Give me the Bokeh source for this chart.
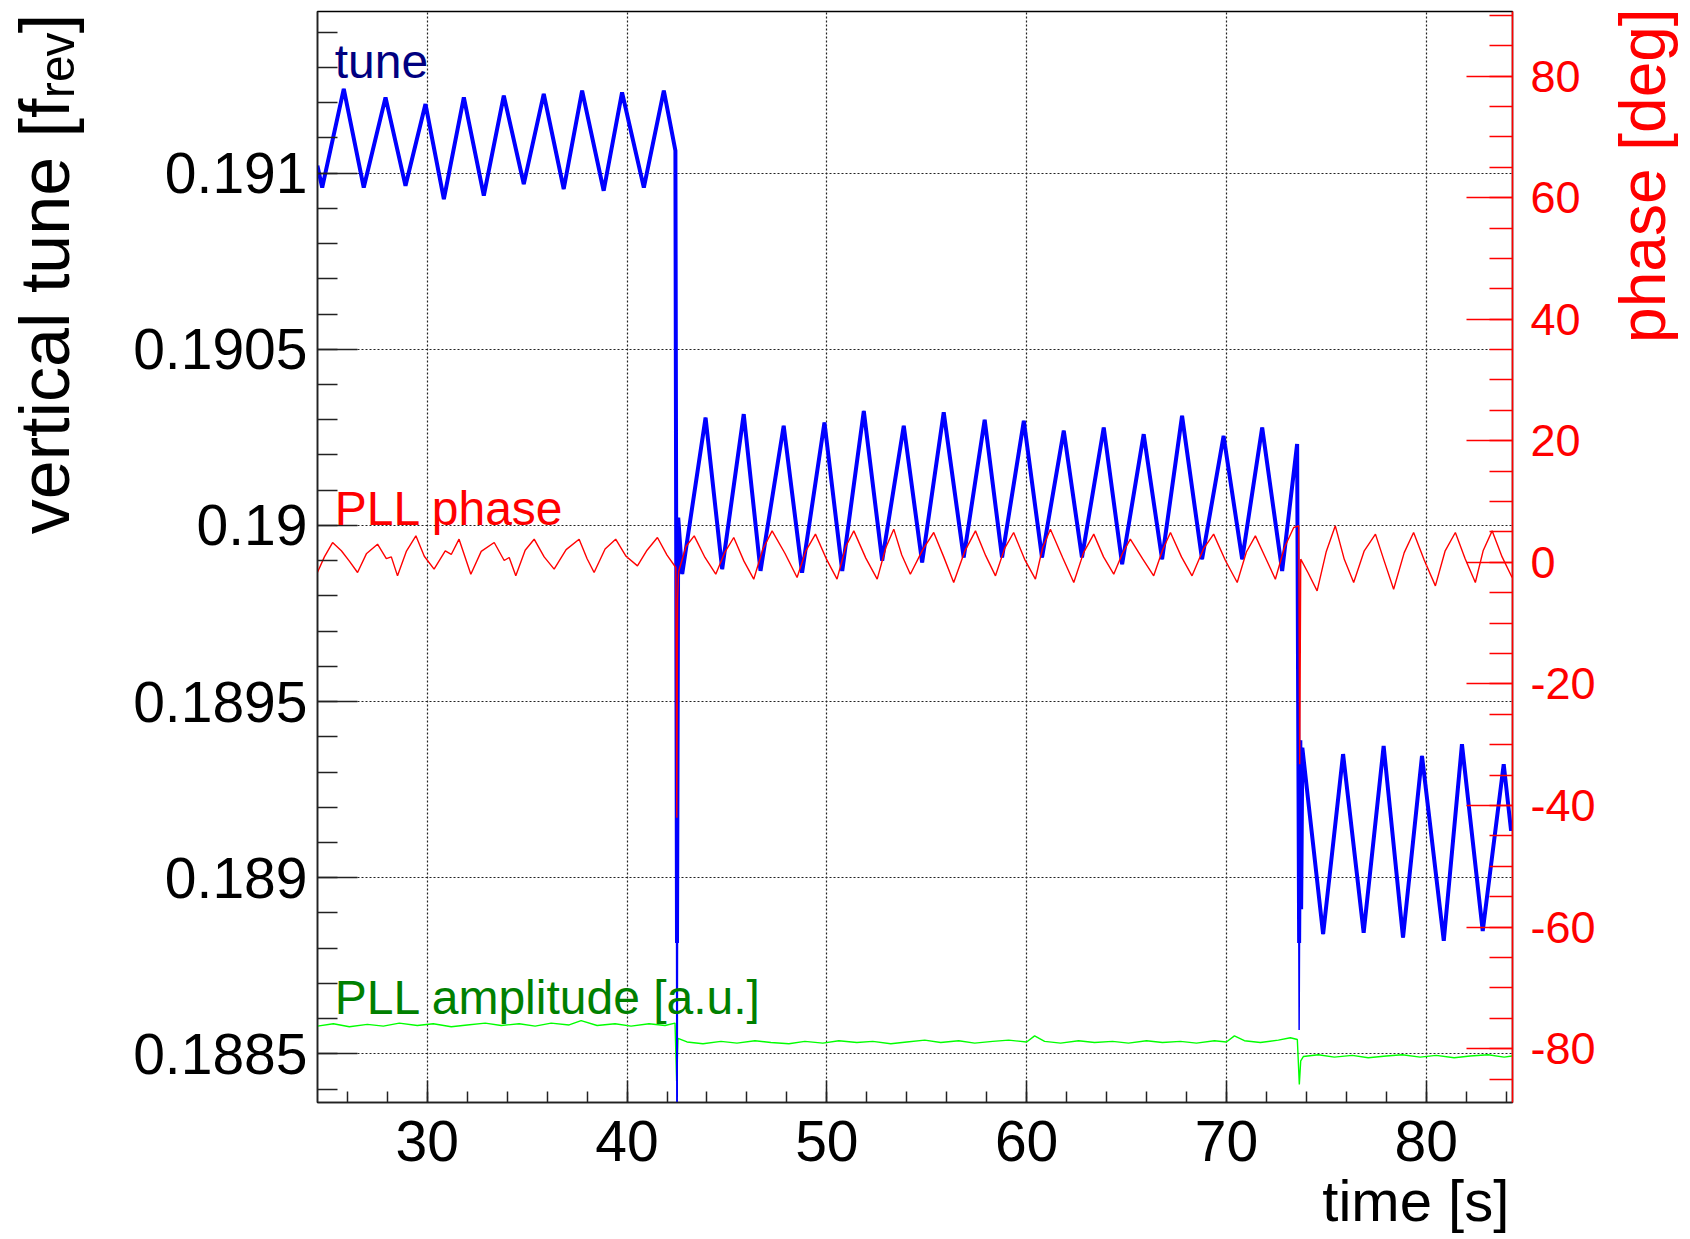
import math
from bokeh.plotting import figure
from bokeh.models import (Range1d, LinearAxis, SingleIntervalTicker,
                          CustomJSTickFormatter, Label, ColumnDataSource)
from bokeh.embed import file_html
from bokeh.resources import INLINE

# ---------------- data ----------------
# vertical tune [f_rev] versus time [s]
tune_t = [24.50, 24.74, 25.82, 26.82, 27.91, 28.91, 29.91, 30.83, 31.83, 32.83,
          33.83, 34.83, 35.83, 36.83, 37.75, 38.83, 39.75, 40.84, 41.84, 42.42,
          42.50, 42.56, 42.76, 43.93, 44.76, 45.84, 46.68, 47.84, 48.76, 49.88,
          50.77, 51.85, 52.77, 53.85, 54.77, 55.85, 56.85, 57.90, 58.77, 59.86,
          60.77, 61.86, 62.77, 63.86, 64.78, 65.86, 66.78, 67.78, 68.78, 69.86,
          70.79, 71.79, 72.79, 73.54, 73.64, 73.70, 73.74, 73.80, 74.84, 75.84,
          76.87, 77.87, 78.84, 79.79, 80.88, 81.79, 82.83, 83.88, 84.25]
tune_v = [0.191021, 0.190959, 0.191239, 0.190959, 0.191215, 0.190964, 0.191196, 0.190926, 0.191215, 0.190936,
          0.191220, 0.190969, 0.191225, 0.190955, 0.191234, 0.190950, 0.191229, 0.190959, 0.191234, 0.191064,
          0.188000, 0.190022, 0.189862, 0.190306, 0.189876, 0.190316, 0.189871, 0.190283, 0.189866, 0.190292,
          0.189871, 0.190325, 0.189900, 0.190283, 0.189895, 0.190321, 0.189909, 0.190300, 0.189909, 0.190297,
          0.189909, 0.190269, 0.189909, 0.190278, 0.189890, 0.190259, 0.189904, 0.190311, 0.189904, 0.190254,
          0.189904, 0.190278, 0.189871, 0.190231, 0.188568, 0.189390, 0.188911, 0.189369, 0.188840, 0.189351,
          0.188844, 0.189374, 0.188830, 0.189346, 0.188821, 0.189379, 0.188849, 0.189322, 0.189133]

# PLL phase [deg] versus time [s]
phase_t = [24.50, 24.85, 25.26, 25.70, 26.10, 26.51, 26.95, 27.51, 27.95, 28.20,
           28.51, 28.95, 29.43, 29.85, 30.34, 30.90, 31.20, 31.59, 32.18, 32.70,
           33.35, 33.85, 34.10, 34.43, 34.90, 35.35, 35.85, 36.35, 36.95, 37.60,
           38.00, 38.35, 38.90, 39.43, 39.95, 40.52, 41.00, 41.52, 42.00, 42.44,
           42.49, 42.53, 42.58, 42.95, 43.36, 43.90, 44.44, 44.90, 45.34, 45.85,
           46.34, 46.80, 47.26, 47.90, 48.51, 48.95, 49.43, 50.00, 50.51, 50.95,
           51.35, 51.95, 52.52, 52.95, 53.35, 53.75, 54.18, 54.80, 55.35, 55.85,
           56.35, 56.90, 57.44, 57.95, 58.44, 58.90, 59.35, 59.90, 60.44, 60.80,
           61.19, 61.80, 62.36, 62.85, 63.36, 63.85, 64.36, 64.80, 65.19, 65.80,
           66.36, 66.80, 67.20, 67.75, 68.28, 68.85, 69.36, 69.95, 70.54, 71.00,
           71.45, 71.95, 72.45, 72.90, 73.37, 73.62, 73.67, 73.72, 74.10, 74.54,
           75.00, 75.45, 75.90, 76.37, 76.90, 77.46, 77.90, 78.37, 78.90, 79.37,
           79.90, 80.46, 80.95, 81.46, 81.95, 82.46, 82.85, 83.30, 83.80, 84.30]
phase_v = [-1.67, 0.9, 3.26, 1.9, 0.2, -1.67, 1.4, 2.99, 0.6, 0.9,
           -2.22, 1.8, 4.36, 1.0, -1.12, 1.9, 1.3, 3.81, -1.95, 1.8,
           3.26, 0.3, 0.8, -2.22, 2.0, 3.81, 0.9, -1.12, 2.1, 3.81,
           0.6, -1.67, 2.2, 3.81, 1.0, -0.58, 2.0, 4.09, 1.2, -0.85,
           -42.0, -6.0, -1.5, 2.6, 4.36, 0.8, -1.95, 1.7, 4.09, 0.2,
           -2.77, 2.2, 5.18, 1.5, -2.50, 1.9, 4.64, 0.4, -2.77, 2.6,
           5.18, 0.7, -2.77, 2.4, 5.46, 1.2, -1.95, 2.1, 4.91, 0.9,
           -3.32, 1.8, 5.18, 1.1, -2.22, 2.3, 4.91, 0.5, -2.77, 2.4,
           5.46, 0.8, -3.32, 1.6, 4.64, 0.9, -1.95, 1.5, 3.81, 0.6,
           -2.22, 2.0, 4.91, 0.9, -2.22, 2.2, 4.64, 0.3, -3.32, 1.7,
           4.36, 0.8, -2.77, 2.4, 5.73, 6.00, -33.2, 0.52, -1.8, -4.69,
           1.8, 6.01, 0.5, -3.32, 1.9, 4.64, 0.2, -4.42, 1.6, 4.91,
           0.4, -3.87, 1.9, 4.91, 0.6, -3.32, 1.9, 5.18, 0.9, -2.50]

# PLL amplitude [a.u.], drawn on the phase scale
amp_t = [24.50, 25.3, 26.1, 27.0, 27.8, 28.6, 29.5, 30.3, 31.2, 32.0,
         32.9, 33.7, 34.6, 35.4, 36.2, 37.1, 37.7, 38.5, 39.4, 40.2,
         41.1, 41.9, 42.40, 42.48, 42.55, 43.0, 43.8, 44.7, 45.5, 46.4,
         47.2, 48.1, 48.9, 49.8, 50.6, 51.5, 52.3, 53.2, 54.0, 54.9,
         55.7, 56.6, 57.4, 58.3, 59.1, 60.0, 60.4, 60.9, 61.7, 62.6,
         63.4, 64.3, 65.1, 66.0, 66.8, 67.7, 68.5, 69.4, 70.0, 70.4,
         70.9, 71.7, 72.6, 73.2, 73.55, 73.65, 73.72, 73.85, 74.6, 75.4,
         76.3, 77.1, 78.0, 78.8, 79.7, 80.5, 81.4, 82.2, 83.1, 83.9, 84.30]
amp_v = [-76.3, -75.9, -76.4, -76.0, -76.3, -75.8, -76.2, -75.9, -76.4, -76.1,
         -75.8, -76.2, -75.9, -76.3, -75.8, -76.1, -75.4, -76.2, -75.9, -76.3,
         -75.9, -76.2, -75.8, -85.3, -78.3, -78.9, -79.2, -78.8, -79.1, -78.7,
         -79.0, -79.2, -78.8, -79.1, -78.7, -79.0, -78.8, -79.2, -78.9, -78.6,
         -79.0, -78.7, -79.1, -78.8, -78.6, -78.9, -77.9, -78.8, -79.1, -78.7,
         -79.0, -78.8, -79.1, -78.7, -79.0, -78.8, -79.1, -78.7, -78.9, -77.9,
         -78.7, -79.0, -78.6, -78.2, -78.5, -85.9, -82.0, -81.3, -81.0, -81.4,
         -81.1, -81.5, -81.2, -81.0, -81.4, -81.1, -81.5, -81.2, -81.0, -81.4, -81.2]

FONT = "Liberation Sans"
NB = "\u00a0"

p = figure(x_range=Range1d(24.505, 84.32), y_range=Range1d(0.1883621, 0.1914588),
           frame_width=1195, frame_height=1091,
           min_border_left=317, min_border_right=178, min_border_top=11, min_border_bottom=137,
           output_backend="svg", toolbar_location=None)
p.extra_y_ranges = {"phase": Range1d(-88.86, 90.62)}
p.background_fill_color = "white"
p.border_fill_color = "white"
p.outline_line_color = "black"
p.outline_line_width = 1.5

xt = SingleIntervalTicker(interval=10, num_minor_ticks=5)
yt = SingleIntervalTicker(interval=0.0005, num_minor_ticks=5)
pt = SingleIntervalTicker(interval=20, num_minor_ticks=4)

xa = p.xaxis[0]
ya = p.yaxis[0]
xa.ticker = xt
ya.ticker = yt
ya.formatter = CustomJSTickFormatter(code="return tick.toFixed(4).replace(/0+$/, '');")

ra = LinearAxis(y_range_name="phase", ticker=pt,
                formatter=CustomJSTickFormatter(code="return tick.toFixed(0);"))
p.add_layout(ra, "right")

for ax, col, size, tin, min_in, stand in [(xa, "black", "57px", 22, 11, 18),
                                          (ya, "black", "57px", 40, 20, 10),
                                          (ra, "#ff0000", "45px", 46, 23, 18)]:
    lc = col if col != "black" else "#222222"
    ax.axis_line_color = lc
    ax.axis_line_width = 1.5
    ax.major_tick_line_color = lc
    ax.minor_tick_line_color = lc
    ax.major_tick_line_width = 1.5
    ax.minor_tick_line_width = 1.5
    ax.major_tick_in = tin
    ax.major_tick_out = 0
    ax.minor_tick_in = min_in
    ax.minor_tick_out = 0
    ax.major_label_text_font = FONT
    ax.major_label_text_font_size = size
    ax.major_label_text_color = col
    ax.major_label_standoff = stand
    ax.axis_label_text_font = FONT
    ax.axis_label_text_font_style = "normal"
    ax.axis_label_align = "end"

# axis titles (label anchored on an axis end; no-break spaces push it back inside)
ya.axis_label = "vertical tune [f\u1d63\u2091\u1d65]" + NB * 27
ya.axis_label_text_font_size = "70px"
ya.axis_label_text_color = "black"
ya.axis_label_standoff = 46

ra.axis_label = NB * 42 + "\u2009" + "phase [deg]"
ra.axis_label_text_font_size = "64px"
ra.axis_label_text_color = "#ff0000"
ra.axis_label_standoff = 44
ra.axis_label_orientation = math.pi / 2
ra.axis_label_align = "start"

xa.axis_label = "time [s]" + NB * 12
xa.axis_label_text_font_size = "58px"
xa.axis_label_text_color = "black"
xa.axis_label_standoff = 4

for g, tk in [(p.xgrid[0], xt), (p.ygrid[0], yt)]:
    g.ticker = tk
    g.grid_line_color = "#222222"
    g.grid_line_dash = "2 2"
    g.grid_line_width = 1.2

# the dense part of the tune trace is drawn thick, the sparse spike tails thin
THICK_FLOOR = 0.188815
src_t = ColumnDataSource(dict(t=tune_t, v=tune_v, vt=[max(v, THICK_FLOOR) for v in tune_v]))
src_p = ColumnDataSource(dict(t=phase_t, v=phase_v))
src_a = ColumnDataSource(dict(t=amp_t, v=amp_v))

p.line("t", "v", source=src_a, y_range_name="phase", line_color="#00ff00", line_width=1.4)
p.line("t", "v", source=src_t, line_color="#0000ff", line_width=1.5)
p.line("t", "vt", source=src_t, line_color="#0000ff", line_width=4)
p.line("t", "v", source=src_p, y_range_name="phase", line_color="#ff0000", line_width=1.4)


def lab(x, y, text, size, color):
    p.add_layout(Label(x=x, y=y, text=text, text_font=FONT, text_font_size=size,
                       text_color=color, text_align="left", text_baseline="alphabetic"))


lab(25.37, 0.191317, "tune", "48px", "#000080")
lab(25.37, 0.190049, "PLL phase", "48px", "#ff0000")
lab(25.37, 0.188659, "PLL amplitude [a.u.]", "48px", "#008000")

open("out.html", "w").write(file_html(p, INLINE))
